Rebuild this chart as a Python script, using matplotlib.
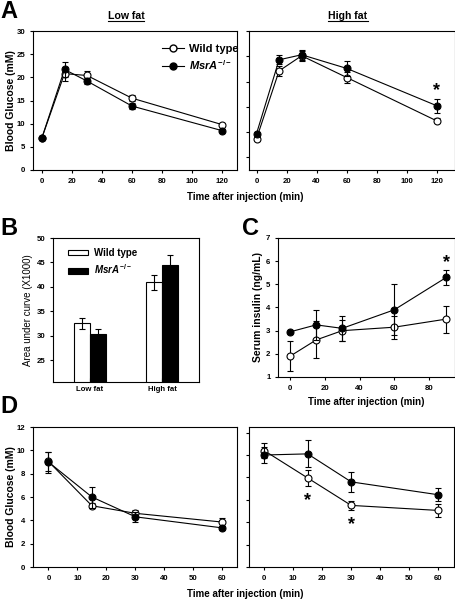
import matplotlib
matplotlib.use("Agg")
import matplotlib.pyplot as plt
from matplotlib.lines import Line2D
from matplotlib.patches import Patch

plt.rcParams['font.family'] = ['Liberation Sans', 'DejaVu Sans']
plt.rcParams['font.weight'] = 'bold'
plt.rcParams['mathtext.fontset'] = 'custom'
plt.rcParams['mathtext.rm'] = 'Liberation Sans:bold'
plt.rcParams['mathtext.it'] = 'Liberation Sans:italic:bold'
plt.rcParams['axes.linewidth'] = 0.8

# ---- data ----
# A: glucose tolerance, low fat / high fat
gtt_time = [0, 15, 30, 60, 120]
lf_wt = [7.0, 20.8, 20.4, 15.5, 9.8]
lf_wt_err = [0.4, 1.5, 1.0, 0.6, 0.4]
lf_ko = [7.0, 21.7, 19.2, 13.8, 8.5]
lf_ko_err = [0.4, 1.7, 0.7, 0.7, 0.4]
hf_wt = [8.7, 22.1, 25.1, 20.8, 12.2]
hf_wt_err = [0.4, 1.0, 1.0, 1.0, 0.5]
hf_ko = [9.7, 24.3, 25.3, 22.6, 15.2]
hf_ko_err = [0.4, 0.9, 1.0, 1.5, 1.4]

# B: area under curve (X1000)
diets = ['Low fat', 'High fat']
auc_wt = [32.5, 40.9]
auc_wt_err = [1.2, 1.5]
auc_ko = [30.3, 44.5]
auc_ko_err = [1.1, 2.1]

# C: serum insulin
ins_time = [0, 15, 30, 60, 90]
ins_wt = [1.9, 2.6, 3.0, 3.15, 3.5]
ins_wt_err = [0.65, 0.8, 0.45, 0.5, 0.58]
ins_ko = [2.95, 3.25, 3.1, 3.9, 5.3]
ins_ko_err = [0.05, 0.65, 0.55, 1.1, 0.32]

# D: insulin tolerance, low fat / high fat
itt_time = [0, 15, 30, 60]
itt_lf_wt = [9.05, 5.25, 4.6, 3.85]
itt_lf_wt_err = [0.85, 0.2, 0.25, 0.35]
itt_lf_ko = [9.0, 6.0, 4.3, 3.35]
itt_lf_ko_err = [0.9, 0.9, 0.45, 0.15]
itt_hf_wt = [10.4, 7.95, 5.5, 5.05]
itt_hf_wt_err = [0.7, 0.75, 0.4, 0.6]
itt_hf_ko = [10.0, 10.1, 7.6, 6.45]
itt_hf_ko_err = [0.7, 1.2, 0.9, 0.6]

W, H = 456, 600
fig = plt.figure(figsize=(W / 100, H / 100), dpi=100)

LAB = 7.5    # axis label size
TICK = 5.6   # tick label size


def rect(l, t, r, b):
    return [l / W, 1 - b / H, (r - l) / W, (b - t) / H]


def style(ax, labels=True):
    ax.tick_params(direction='out', length=2.5, width=0.8, labelsize=TICK,
                   top=False, right=False, pad=3)
    for lab in ax.get_xticklabels() + ax.get_yticklabels():
        lab.set_fontweight('bold')
    if not labels:
        ax.set_yticklabels([])


def ylab(ax, text, right_px, left_px, width_px, **kw):
    # put the y label so its right side sits at right_px (figure pixels)
    ax.set_ylabel(text, fontsize=kw.pop('fontsize', LAB), fontweight=kw.pop('fontweight', 'bold'))
    ax.yaxis.set_label_coords((right_px - left_px) / width_px, 0.5)


def curves(ax, t, wt, wt_err, ko, ko_err):
    kw = dict(color='black', lw=0.8, ms=5, capsize=2.2, elinewidth=0.8,
              capthick=0.8, mec='black', mew=0.8)
    ax.errorbar(t, wt, yerr=wt_err, fmt='-o', mfc='white', zorder=3, **kw)
    ax.errorbar(t, ko, yerr=ko_err, fmt='-o', mfc='black', zorder=4, **kw)


def star(ax, x, y):
    ax.text(x, y, '*', ha='center', va='center', fontsize=13, fontweight='bold')


ko_label = r'$\mathit{MsrA}^{-/-}$'

# ---- A ----
axA1 = fig.add_axes(rect(33, 31, 237, 170))
curves(axA1, gtt_time, lf_wt, lf_wt_err, lf_ko, lf_ko_err)
axA1.set_xlim(-6, 130)
axA1.set_ylim(0, 30)
axA1.set_xticks([0, 20, 40, 60, 80, 100, 120])
axA1.set_yticks([0, 5, 10, 15, 20, 25, 30])
style(axA1)
ylab(axA1, 'Blood Glucose (mM)', 16, 33, 204)
handles = [Line2D([], [], color='black', lw=0.8, marker='o', ms=5, mfc='white', mec='black'),
           Line2D([], [], color='black', lw=0.8, marker='o', ms=5, mfc='black', mec='black')]
axA1.legend(handles, ['Wild type', ko_label], loc='upper left', bbox_to_anchor=(0.63, 0.905),
            frameon=False, prop={'size': 8, 'weight': 'bold'}, handlelength=2.0,
            handletextpad=0.45, labelspacing=0.35, borderpad=0, borderaxespad=0)

axA2 = fig.add_axes(rect(249, 31, 455, 170))
curves(axA2, gtt_time, hf_wt, hf_wt_err, hf_ko, hf_ko_err)
axA2.set_xlim(-5, 132)
axA2.set_ylim(2.5, 30)
axA2.set_xticks([0, 20, 40, 60, 80, 100, 120])
axA2.set_yticks([5, 10, 15, 20, 25, 30])
style(axA2, labels=False)
star(axA2, 120, 18.2)

tA1 = fig.text(126 / W, 1 - 16 / H, 'Low fat', ha='center', va='center', fontsize=7.6, fontweight='bold')
tA2 = fig.text(348 / W, 1 - 16 / H, 'High fat', ha='center', va='center', fontsize=7.6, fontweight='bold')
fig.text(245 / W, 1 - 197 / H, 'Time after injection (min)', ha='center', va='center',
         fontsize=7, fontweight='bold')

# ---- B ----
axB = fig.add_axes(rect(53, 238, 199, 382))
x = range(len(diets))
bw = 0.225
axB.bar([i - bw / 2 for i in x], auc_wt, bw, yerr=auc_wt_err, color='white', edgecolor='black',
        lw=0.8, capsize=2.2, error_kw=dict(elinewidth=0.8, capthick=0.8))
axB.bar([i + bw / 2 for i in x], auc_ko, bw, yerr=auc_ko_err, color='black', edgecolor='black',
        lw=0.8, capsize=2.2, error_kw=dict(elinewidth=0.8, capthick=0.8))
axB.set_xlim(-0.51, 1.51)
axB.set_ylim(20.5, 50)
axB.set_xticks(list(x))
axB.set_xticklabels(diets)
axB.set_yticks([25, 30, 35, 40, 45, 50])
style(axB)
axB.tick_params(axis='x', direction='in', length=3)
ylab(axB, 'Area under curve (X1000)', 33, 53, 146, fontsize=7, fontweight='normal')
axB.legend([Patch(facecolor='white', edgecolor='black', lw=0.8),
            Patch(facecolor='black', edgecolor='black', lw=0.8)],
           ['Wild type', ko_label], loc='upper left', bbox_to_anchor=(0.10, 0.93), frameon=False,
           prop={'size': 7, 'weight': 'bold'}, handlelength=2.1, handleheight=0.5,
           handletextpad=0.6, labelspacing=0.45, borderpad=0, borderaxespad=0)

# ---- C ----
axC = fig.add_axes(rect(278, 238, 455, 377))
curves(axC, ins_time, ins_wt, ins_wt_err, ins_ko, ins_ko_err)
axC.set_xlim(-7, 95)
axC.set_ylim(1, 7)
axC.set_xticks([0, 20, 40, 60, 80])
axC.set_yticks([1, 2, 3, 4, 5, 6, 7])
style(axC)
ylab(axC, 'Serum insulin (ng/mL)', 263, 278, 177)
axC.set_xlabel('Time after injection (min)', fontsize=7, fontweight='bold', labelpad=4)
star(axC, 90, 5.95)

# ---- D ----
axD1 = fig.add_axes(rect(33, 427, 237, 567))
curves(axD1, itt_time, itt_lf_wt, itt_lf_wt_err, itt_lf_ko, itt_lf_ko_err)
axD1.set_xlim(-5.3, 65)
axD1.set_ylim(0, 12)
axD1.set_xticks([0, 10, 20, 30, 40, 50, 60])
axD1.set_yticks([0, 2, 4, 6, 8, 10, 12])
style(axD1)
ylab(axD1, 'Blood Glucose (mM)', 16, 33, 204)

axD2 = fig.add_axes(rect(249, 427, 454, 567))
curves(axD2, itt_time, itt_hf_wt, itt_hf_wt_err, itt_hf_ko, itt_hf_ko_err)
axD2.set_xlim(-5.2, 65.4)
axD2.set_ylim(0, 12.5)
axD2.set_xticks([0, 10, 20, 30, 40, 50, 60])
axD2.set_yticks([0, 2, 4, 6, 8, 10, 12])
style(axD2, labels=False)
star(axD2, 15, 5.9)
star(axD2, 30, 3.75)

fig.text(245 / W, 1 - 594 / H, 'Time after injection (min)', ha='center', va='center',
         fontsize=7, fontweight='bold')

# panel letters
for letter, px, py in [('A', 0, 0.5), ('B', 0, 217), ('C', 242, 217), ('D', 0, 395)]:
    fig.text(px / W, 1 - py / H, letter, ha='left', va='top', fontsize=17, fontweight='bold')

# underline the diet headings
fig.canvas.draw()
r = fig.canvas.get_renderer()
for t in (tA1, tA2):
    bb = t.get_window_extent(r)
    y0 = bb.y0 + 0.5
    fig.add_artist(Line2D([bb.x0 / W, bb.x1 / W], [y0 / H, y0 / H],
                          transform=fig.transFigure, color='black', lw=0.8))

fig.savefig('out.png', dpi=100)
